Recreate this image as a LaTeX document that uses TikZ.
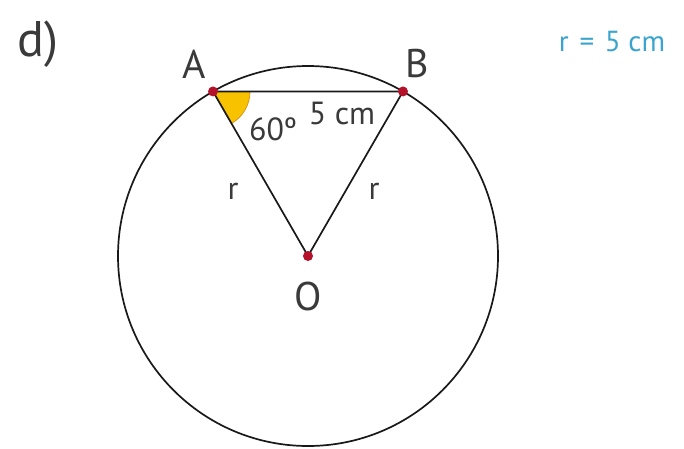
\documentclass[tikz,border=0pt]{standalone}
\usepackage{xcolor}
\usepackage{fontspec}
\setmainfont{PT Sans}
\usepackage{tikz}
\usetikzlibrary{positioning}

\definecolor{inkgray}{HTML}{3A3A3A}
\definecolor{dotred}{HTML}{B3122A}
\definecolor{angyellow}{HTML}{F7C300}
\definecolor{angedge}{HTML}{D9951A}
\definecolor{rcyan}{HTML}{3AA4CC}

\begin{document}
\begin{tikzpicture}[x=1pt, y=1pt,
        lbl/.style={inner sep=0pt, text=inkgray, font=\fontsize{32}{32}\selectfont},
        big/.style={font=\fontsize{40}{40}\selectfont},
        pt/.style={circle, fill=dotred, inner sep=0pt, minimum size=10pt},
        line/.style={draw=black!90, line width=1.7pt}]
        \useasboundingbox (0,0) rectangle (684,448);

        \coordinate (O) at (308,192);
        \coordinate (A) at ([shift={(120:190)}]O);
        \coordinate (B) at ([shift={(60:190)}]O);

        % angle at A
        \fill[angyellow, draw=angedge, line width=0.8pt] (A) -- ++(0:37) arc (0:-60:37) -- cycle;

        \draw[line] (O) circle (190);
        \draw[line] (A) -- (B) -- (O) -- cycle;

        \node[pt] (pA) at (A) {};
        \node[pt] (pB) at (B) {};
        \node[pt] (pO) at (O) {};

        \node[lbl, big] (labA) at (194,384) {A};
        \node[lbl, big] (labB) at (417,384) {B};
        \node[lbl, big] (labO) at (308,152) {O};
        \node[lbl] (ang) at (273,319) {60º};
        \node[lbl] (chord) at (342,335) {5 cm};
        \node[lbl] (rA) at (233,257) {r};
        \node[lbl] (rB) at (374,257) {r};

        \node[lbl, font=\fontsize{50}{50}\selectfont] (part) at (38,404) {d)};
        \node[lbl, text=rcyan, font=\fontsize{29}{29}\selectfont] (given) at (612,406) {r\hspace{3pt} = \hspace{3pt}5 cm};
    \end{tikzpicture}
\end{document}
